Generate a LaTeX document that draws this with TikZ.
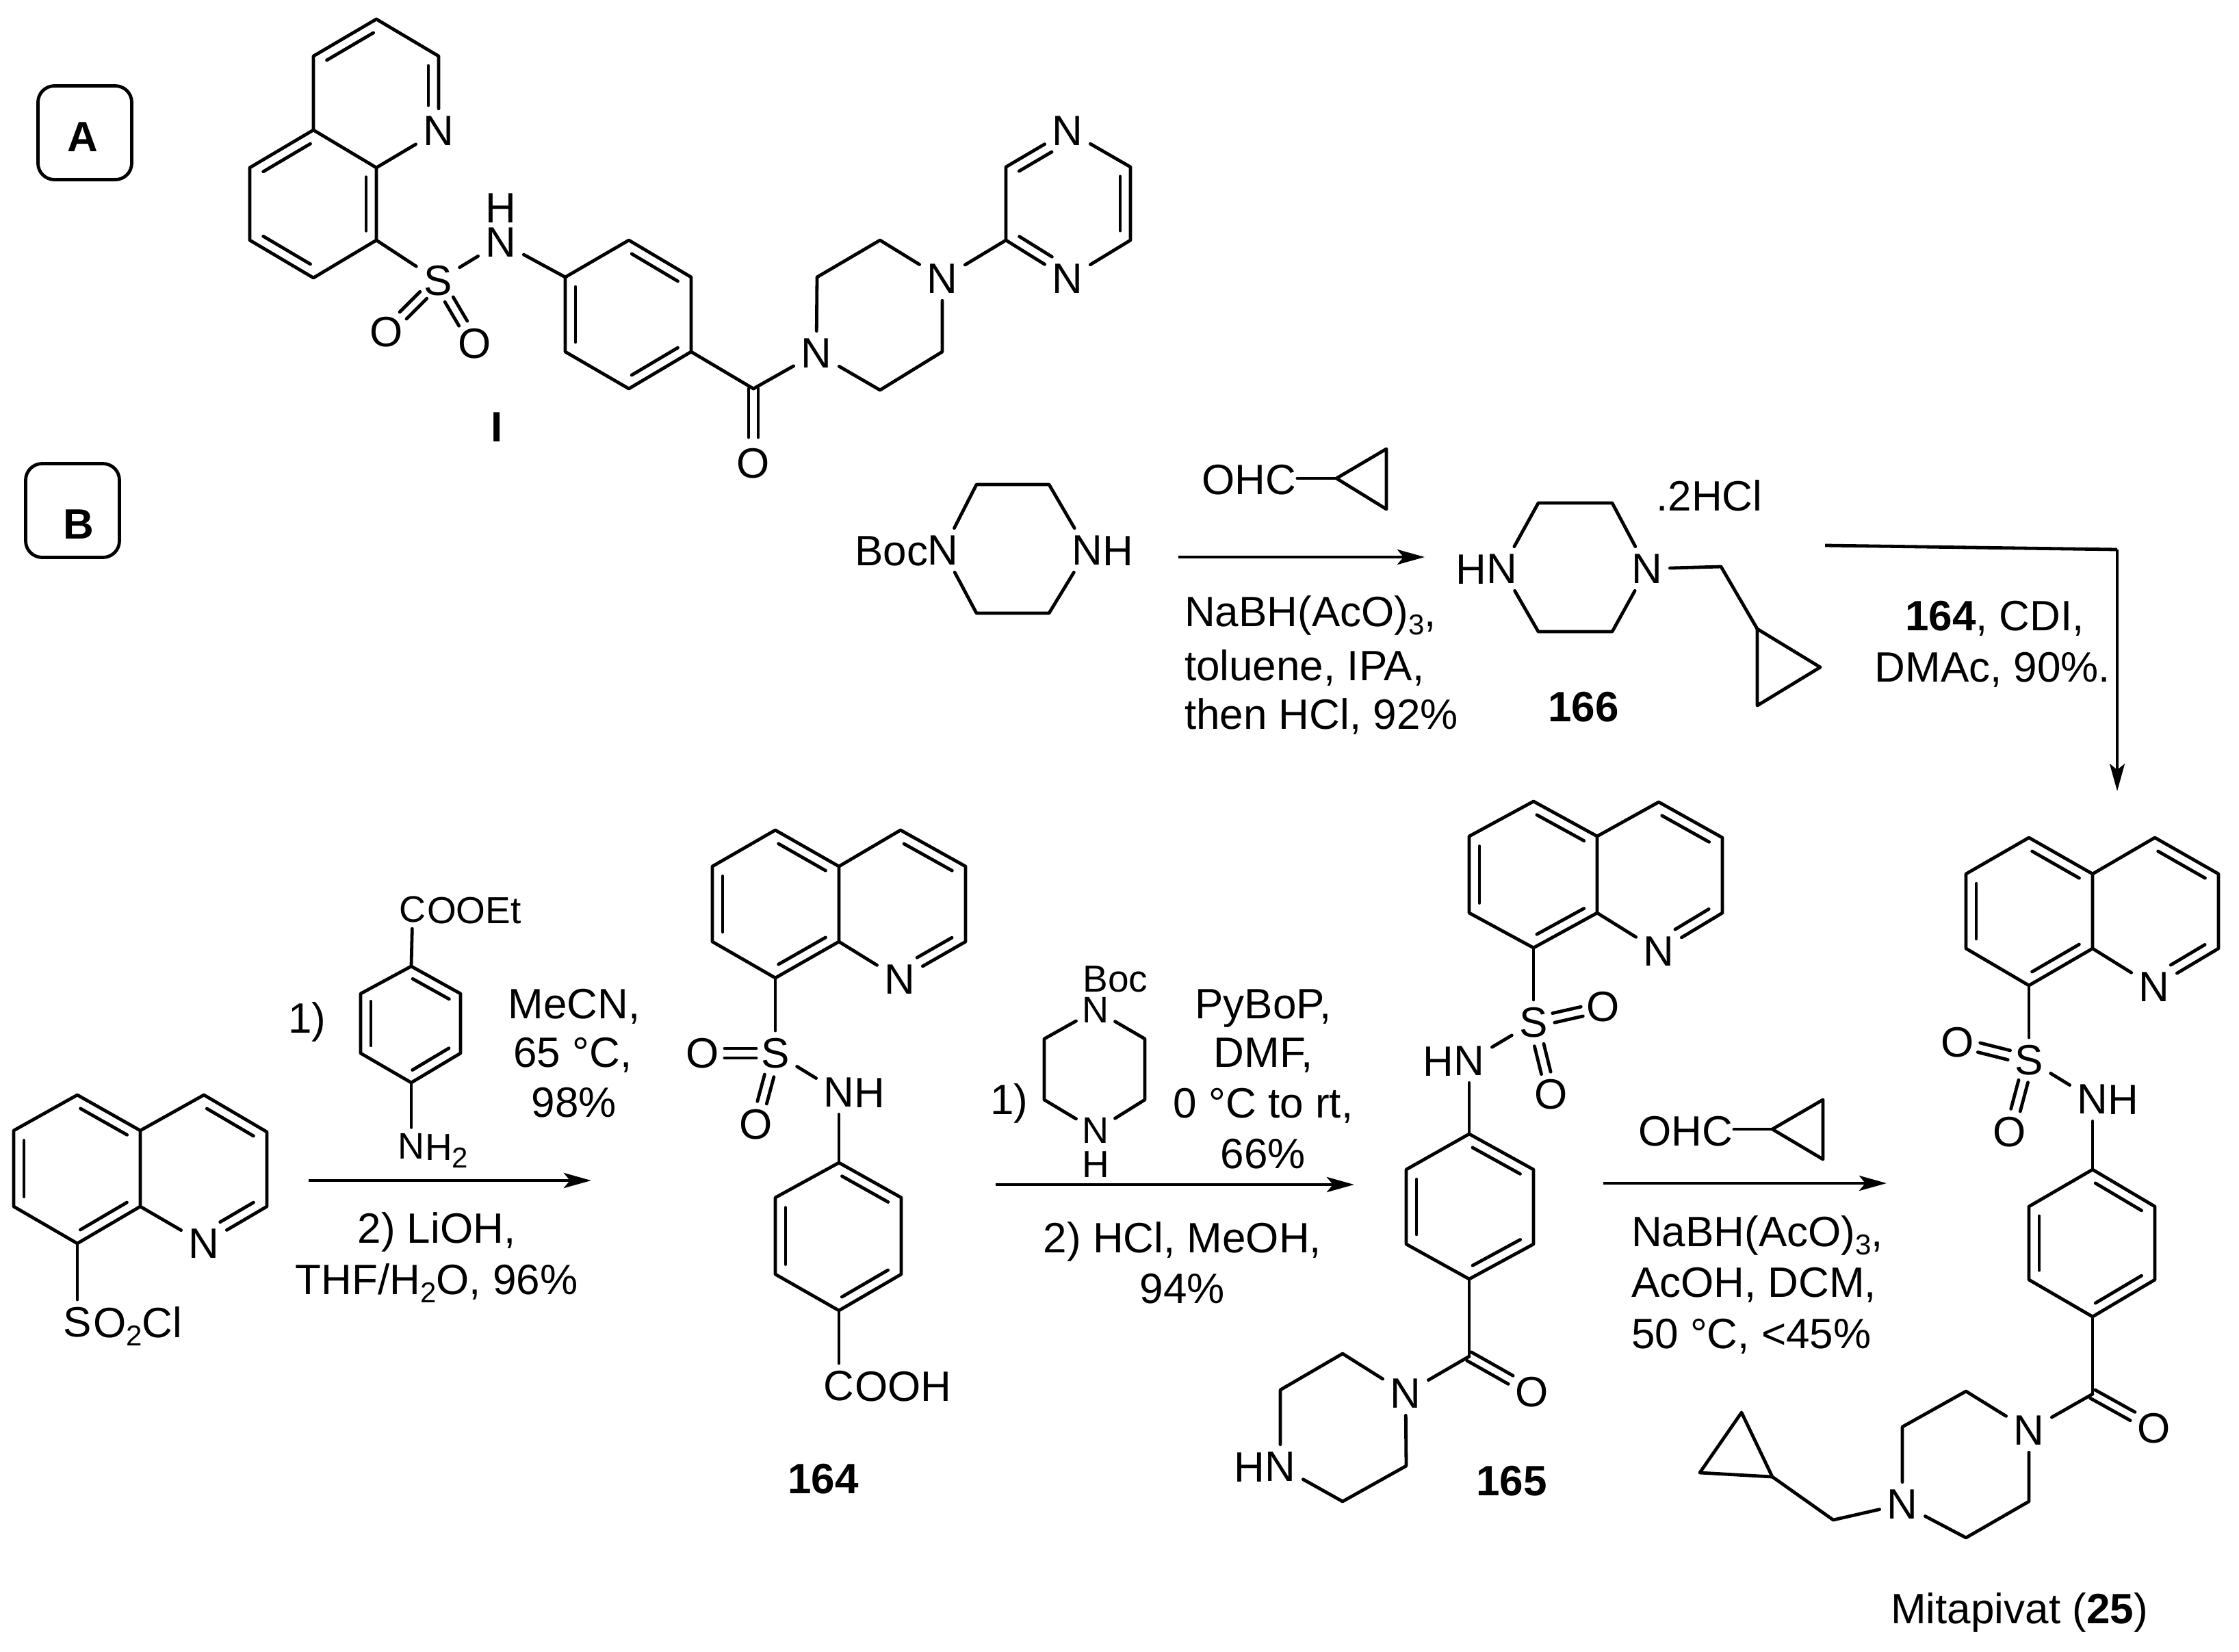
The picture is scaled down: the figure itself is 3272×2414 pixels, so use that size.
\documentclass[tikz,border=0pt]{standalone}
\usepackage{fontspec}
\setmainfont{Liberation Sans}
\usetikzlibrary{calc,arrows.meta}
\newcommand{\dn}[1]{\raisebox{-.2em}{\fontsize{42}{42}\selectfont #1}}
\tikzset{
  x=1pt,y=-1pt,
  bond/.style={line width=4.8pt,line cap=round,line join=round,black},
  arrowline/.style={line width=4.8pt,-{Stealth[length=40pt,width=22pt,inset=9pt]}},
  atom/.style={inner sep=11pt,outer sep=0pt,font=\fontsize{62}{70}\selectfont},
  atomsm/.style={inner sep=9pt,outer sep=0pt,font=\fontsize{54}{60}\selectfont},
  txt/.style={inner sep=0pt,outer sep=0pt,anchor=base,font=\fontsize{62}{70}\selectfont},
  txtw/.style={txt,anchor=base west},
  txte/.style={txt,anchor=base east},
  txtsm/.style={txt,font=\fontsize{55}{60}\selectfont},
  panel/.style={draw,line width=4.8pt,rounded corners=24pt,minimum width=137pt,minimum height=137pt,inner sep=0pt}
}
% inner line of a ring double bond, rings listed clockwise on screen
\newcommand{\ib}[2]{\draw[bond] ($(#1)!.13!(#2)!15pt!-90:(#2)$) -- ($(#1)!.87!(#2)!15pt!-90:(#2)$);}
\newcommand{\ibn}[2]{\draw[bond] ($(#1)!.13!(#2)!15pt!-90:(#2)$) -- ($(#1)!.66!(#2)!15pt!-90:(#2)$);}
\newcommand{\nib}[2]{\draw[bond] ($(#1)!.34!(#2)!15pt!-90:(#2)$) -- ($(#1)!.87!(#2)!15pt!-90:(#2)$);}
% parallel double bond between two named points
\newcommand{\dbl}[4]{%
  \draw[bond,shorten <=#3,shorten >=#4] ($(#1)!7pt!90:(#2)$) -- ($(#2)!7pt!-90:(#1)$);%
  \draw[bond,shorten <=#3,shorten >=#4] ($(#1)!7pt!-90:(#2)$) -- ($(#2)!7pt!90:(#1)$);}
% quinoline: prefix + t,a,b,e,s,x (benzo ring clockwise), u,v,w,n (pyridine)
\newcommand{\quinol}[1]{%
  \draw[bond] (#1t)--(#1a)--(#1b)--(#1e)--(#1s)--(#1x)--cycle;%
  \draw[bond] (#1a)--(#1u)--(#1v)--(#1w)--(#1n)--(#1b);%
  \ib{#1t}{#1a}\ib{#1b}{#1e}\ib{#1s}{#1x}\ib{#1u}{#1v}\ibn{#1w}{#1n}}
% para-phenylene: prefix + 1..6 clockwise from top
\newcommand{\phen}[1]{%
  \draw[bond] (#11)--(#12)--(#13)--(#14)--(#15)--(#16)--cycle;%
  \ib{#11}{#12}\ib{#13}{#14}\ib{#15}{#16}}
\begin{document}
\begin{tikzpicture}
\useasboundingbox (0,0) rectangle (3272,2414);
\fill[white] (0,0) rectangle (3272,2414);

% ---------- panels
\node[panel] (boxA) at (124,194) {};
\node[txt] (labA) at (121,221) {\textbf{A}};
\node[panel] (boxB) at (106,746) {};
\node[txt] (labB) at (115,787) {\textbf{B}};

% ---------- structure I
\coordinate (it) at (550,28); \coordinate (ia2) at (641,82); \node[atom] (in) at (641,191) {N};
\coordinate (ib) at (550,245); \coordinate (ia) at (458,190); \coordinate (iu) at (458,82);
\coordinate (i5) at (365,245); \coordinate (i6) at (365,351); \coordinate (i7) at (458,406); \coordinate (i8) at (550,351);
\draw[bond] (it)--(ia2)--(in)--(ib)--(ia)--(iu)--(it);
\draw[bond] (ia)--(i5)--(i6)--(i7)--(i8)--(ib);
\ib{iu}{it}\ibn{ia2}{in}\ib{i5}{ia}\ib{ib}{i8}\ib{i7}{i6}
\node[atom] (is) at (640,410) {S};
\node[atom] (io1) at (565,485) {O};
\node[atom] (io2) at (694,502) {O};
\node[atom] (inh) at (732,354) {N};
\node[txt] (inhh) at (732,325) {H};
\draw[bond] (i8)--(is);
\draw[bond] (is)--(inh);
\dbl{is}{io1}{30pt}{34pt}
\dbl{is}{io2}{32pt}{34pt}
\coordinate (ip1) at (919,351); \coordinate (ip2) at (1010,405); \coordinate (ip3) at (1010,514);
\coordinate (ip4) at (919,568); \coordinate (ip5) at (826,514); \coordinate (ip6) at (826,405);
\phen{ip}
\draw[bond] (inh)--(ip6);
\coordinate (ic) at (1101,568);
\node[atom] (ico) at (1101,677) {O};
\draw[bond] (ip3)--(ic);
\dbl{ic}{ico}{0pt}{38pt}
\node[atom] (izn1) at (1193,516) {N};
\coordinate (iz2) at (1194,405); \coordinate (iz3) at (1286,351);
\node[atom] (izn4) at (1377,407) {N};
\coordinate (iz5) at (1377,514); \coordinate (iz6) at (1286,570);
\draw[bond] (ic)--(izn1)--(iz2)--(iz3)--(izn4)--(iz5)--(iz6)--(izn1);
\coordinate (iy2) at (1470,351); \coordinate (iy3) at (1470,244);
\node[atom] (iyn4) at (1560,191) {N};
\coordinate (iy5) at (1652,244); \coordinate (iy6) at (1652,351);
\node[atom] (iyn1) at (1560,407) {N};
\draw[bond] (izn4)--(iy2)--(iy3)--(iyn4)--(iy5)--(iy6)--(iyn1)--(iy2);
\ibn{iy3}{iyn4}\ib{iy5}{iy6}\nib{iyn1}{iy2}
\node[txt] (labI) at (726,645) {\textbf{I}};

% ---------- Boc-piperazine
\node[atom] (bn) at (1378,804) {N};
\node[txte] (bboc) at (1356,826) {Boc};
\node[atom] (bnh) at (1589,804) {N};
\node[txt] (bnhh) at (1634,826) {H};
\coordinate (b2) at (1427,708); \coordinate (b3) at (1533,708);
\coordinate (b5) at (1533,896); \coordinate (b6) at (1427,896);
\draw[bond] (bn)--(b2)--(b3)--(bnh)--(b5)--(b6)--(bn);

% ---------- reagent above arrow 1
\node[txt] (ohc1) at (1825,722) {OHC};
\coordinate (cp1a) at (1953,699); \coordinate (cp1b) at (2026,656); \coordinate (cp1c) at (2026,744);
\draw[bond] (ohc1.east |- cp1a) ++(2,0) coordinate (ohc1e) -- (cp1a);
\draw[bond] (cp1a)--(cp1b)--(cp1c)--cycle;
\coordinate (ar1s) at (1722,814); \coordinate (ar1e) at (2082,814);
\draw[arrowline] (ar1s)--(ar1e);
\node[txtw] (c1l1) at (1731,915) {NaBH(AcO)\dn{3},};
\node[txtw] (c1l2) at (1731,994) {toluene, IPA,};
\node[txtw] (c1l3) at (1731,1065) {then HCl, 92\%};

% ---------- 166
\node[atom] (sn1) at (2195,831) {N};
\node[txt] (sh) at (2150,853) {H};
\node[atom] (sn4) at (2407,831) {N};
\coordinate (s2) at (2248,735); \coordinate (s3) at (2356,735);
\coordinate (s5) at (2356,923); \coordinate (s6) at (2248,923);
\draw[bond] (sn1)--(s2)--(s3)--(sn4)--(s5)--(s6)--(sn1);
\coordinate (sc) at (2515,828); \coordinate (scp1) at (2568,919); \coordinate (scp2) at (2660,975); \coordinate (scp3) at (2568,1031);
\draw[bond] (sn4)--(sc)--(scp1);
\draw[bond] (scp1)--(scp2)--(scp3)--cycle;
\node[txt] (shcl) at (2498,746) {.2HCl};
\node[txt] (lab166) at (2314,1054) {\textbf{166}};

% ---------- long arrow
\coordinate (lg1) at (2667,797); \coordinate (lg2) at (3094,803); \coordinate (lg3) at (3094,1156);
\draw[line width=4.8pt] (lg1)--(lg2);
\draw[line width=4pt,-{Stealth[length=40pt,width=22pt,inset=9pt]}] (lg2)--(lg3);
\node[txt] (c4l1) at (2915,921) {\textbf{164}, CDI,};
\node[txt] (c4l2) at (2912,996) {DMAc, 90\%.};

% ---------- sulfonyl chloride
\coordinate (qt) at (113,1600); \coordinate (qa) at (205,1652); \coordinate (qb) at (205,1763);
\coordinate (qe) at (113,1817); \coordinate (qs) at (20,1763); \coordinate (qx) at (20,1652);
\coordinate (qu) at (298,1600); \coordinate (qv) at (390,1654); \coordinate (qw) at (390,1763);
\node[atom] (qn) at (298,1817) {N};
\quinol{q}
\node[atom] (qso) at (113,1932) {S};
\node[txtw] (qsor) at (136,1954) {O\dn{2}Cl};
\draw[bond] (qe)--(qso);

% ---------- reagent above arrow 2
\node[atomsm] (r1c) at (603,1329) {C};
\node[txtsm,anchor=base west] (r1t) at (624,1349) {OOEt};
\node[atomsm] (r1n) at (601,1675) {N};
\node[txtsm,anchor=base west] (r1h) at (621,1695) {H\dn{2}};
\coordinate (r11) at (601,1412); \coordinate (r12) at (673,1452); \coordinate (r13) at (673,1539);
\coordinate (r14) at (601,1582); \coordinate (r15) at (527,1539); \coordinate (r16) at (527,1452);
\phen{r1}
\draw[bond] (r1c)--(r11); \draw[bond] (r14)--(r1n);
\node[txt] (r1one) at (449,1509) {1)};
\node[txt] (c2l1) at (839,1488) {MeCN,};
\node[txt] (c2l2) at (837,1559) {65 °C,};
\node[txt] (c2l3) at (839,1632) {98\%};
\coordinate (ar2s) at (451,1725); \coordinate (ar2e) at (864,1725);
\draw[arrowline] (ar2s)--(ar2e);
\node[txt] (c2l4) at (638,1816) {2) LiOH,};
\node[txt] (c2l5) at (638,1891) {THF/H\dn{2}O, 96\%};

% ---------- 164
\coordinate (at) at (1133,1213); \coordinate (aa) at (1226,1266); \coordinate (ab) at (1226,1376);
\coordinate (ae) at (1133,1429); \coordinate (as) at (1041,1376); \coordinate (ax) at (1041,1266);
\coordinate (au) at (1316,1213); \coordinate (av) at (1411,1266); \coordinate (aw) at (1411,1376);
\node[atom] (an) at (1315,1431) {N};
\quinol{a}
\node[atom] (aso) at (1133,1539) {S};
\node[atom] (ao1) at (1027,1539) {O};
\node[atom] (ao2) at (1105,1643) {O};
\node[atom] (anh) at (1226,1596) {N};
\node[txt] (anhh) at (1271,1618) {H};
\draw[bond] (ae)--(aso); \draw[bond] (aso)--(anh);
\dbl{aso}{ao1}{28pt}{32pt}
\dbl{aso}{ao2}{34pt}{33pt}
\coordinate (ap1) at (1226,1699); \coordinate (ap2) at (1317,1750); \coordinate (ap3) at (1317,1862);
\coordinate (ap4) at (1226,1915); \coordinate (ap5) at (1133,1862); \coordinate (ap6) at (1133,1750);
\phen{ap}
\draw[bond] (anh)--(ap1);
\node[atom] (acooh) at (1226,2025) {C};
\node[txtw] (acoohr) at (1249,2047) {OOH};
\draw[bond] (ap4)--(acooh);
\node[txt] (lab164) at (1203,2182) {\textbf{164}};

% ---------- reagent above arrow 3
\node[txt] (r2one) at (1475,1628) {1)};
\node[atomsm] (r2n1) at (1601,1476) {N};
\node[txtsm] (r2boc) at (1630,1449) {Boc};
\node[atomsm] (r2n4) at (1601,1652) {N};
\node[txtsm] (r2h) at (1601,1720) {H};
\coordinate (r22) at (1673,1518); \coordinate (r23) at (1673,1607);
\coordinate (r25) at (1526,1607); \coordinate (r26) at (1526,1518);
\draw[bond] (r2n1)--(r22)--(r23)--(r2n4)--(r25)--(r26)--(r2n1);
\node[txt] (c3l1) at (1846,1488) {PyBoP,};
\node[txt] (c3l2) at (1846,1559) {DMF,};
\node[txt] (c3l3) at (1846,1633) {0 °C to rt,};
\node[txt] (c3l4) at (1846,1707) {66\%};
\coordinate (ar3s) at (1455,1731); \coordinate (ar3e) at (1979,1731);
\draw[arrowline] (ar3s)--(ar3e);
\node[txt] (c3l5) at (1728,1830) {2) HCl, MeOH,};
\node[txt] (c3l6) at (1728,1904) {94\%};

% ---------- 165
\coordinate (ct) at (2241,1171); \coordinate (ca) at (2334,1222); \coordinate (cb) at (2334,1334);
\coordinate (ce) at (2241,1385); \coordinate (cs) at (2147,1334); \coordinate (cx) at (2147,1222);
\coordinate (cu) at (2424,1172); \coordinate (cv) at (2517,1224); \coordinate (cw) at (2517,1334);
\node[atom] (cn) at (2424,1390) {N};
\quinol{c}
\node[atom] (cso) at (2241,1494) {S};
\node[atom] (co1) at (2343,1471) {O};
\node[atom] (co2) at (2267,1599) {O};
\node[atom] (cnh) at (2147,1550) {N};
\node[txt] (cnhh) at (2102,1572) {H};
\draw[bond] (ce)--(cso); \draw[bond] (cso)--(cnh);
\dbl{cso}{co1}{30pt}{32pt}
\dbl{cso}{co2}{34pt}{32pt}
\coordinate (cp1) at (2147,1657); \coordinate (cp2) at (2241,1709); \coordinate (cp3) at (2241,1818);
\coordinate (cp4) at (2147,1869); \coordinate (cp5) at (2055,1818); \coordinate (cp6) at (2055,1709);
\phen{cp}
\draw[bond] (cnh)--(cp1);
\coordinate (cc) at (2147,1982);
\node[atom] (cco) at (2239,2034) {O};
\draw[bond] (cp4)--(cc);
\dbl{cc}{cco}{0pt}{36pt}
\node[atom] (czn1) at (2054,2036) {N};
\coordinate (cz2) at (1962,1978); \coordinate (cz3) at (1871,2031);
\node[atom] (czn4) at (1871,2143) {N};
\node[txt] (czh) at (1826,2165) {H};
\coordinate (cz5) at (1962,2194); \coordinate (cz6) at (2055,2142);
\draw[bond] (cc)--(czn1)--(cz2)--(cz3)--(czn4)--(cz5)--(cz6)--(czn1);
\node[txt] (lab165) at (2209,2185) {\textbf{165}};

% ---------- reagent above arrow 4
\node[txt] (ohc2) at (2463,1674) {OHC};
\coordinate (cp2a) at (2590,1650); \coordinate (cp2b) at (2664,1607); \coordinate (cp2c) at (2664,1694);
\draw[bond] (ohc2.east |- cp2a) ++(2,0) coordinate (ohc2e) -- (cp2a);
\draw[bond] (cp2a)--(cp2b)--(cp2c)--cycle;
\coordinate (ar4s) at (2343,1729); \coordinate (ar4e) at (2757,1729);
\draw[arrowline] (ar4s)--(ar4e);
\node[txtw] (c5l1) at (2384,1821) {NaBH(AcO)\dn{3},};
\node[txtw] (c5l2) at (2384,1895) {AcOH, DCM,};
\node[txtw] (c5l3) at (2384,1970) {50 °C, <45\%};

% ---------- mitapivat
\coordinate (mt) at (2965,1224); \coordinate (ma) at (3058,1277); \coordinate (mb) at (3058,1386);
\coordinate (me) at (2965,1440); \coordinate (ms) at (2873,1386); \coordinate (mx) at (2873,1277);
\coordinate (mu) at (3149,1224); \coordinate (mv) at (3242,1277); \coordinate (mw) at (3242,1386);
\node[atom] (mn) at (3148,1442) {N};
\quinol{m}
\node[atom] (mso) at (2965,1549) {S};
\node[atom] (mo1) at (2861,1523) {O};
\node[atom] (mo2) at (2937,1654) {O};
\node[atom] (mnh) at (3058,1606) {N};
\node[txt] (mnhh) at (3103,1628) {H};
\draw[bond] (me)--(mso); \draw[bond] (mso)--(mnh);
\dbl{mso}{mo1}{30pt}{32pt}
\dbl{mso}{mo2}{32pt}{33pt}
\coordinate (mp1) at (3058,1709); \coordinate (mp2) at (3149,1763); \coordinate (mp3) at (3149,1870);
\coordinate (mp4) at (3058,1924); \coordinate (mp5) at (2965,1870); \coordinate (mp6) at (2965,1763);
\phen{mp}
\draw[bond] (mnh)--(mp1);
\coordinate (mc) at (3058,2037);
\node[atom] (mco) at (3148,2087) {O};
\draw[bond] (mp4)--(mc);
\dbl{mc}{mco}{0pt}{36pt}
\node[atom] (mzn1) at (2965,2090) {N};
\coordinate (mz2) at (2873,2033); \coordinate (mz3) at (2780,2085);
\node[atom] (mzn4) at (2780,2198) {N};
\coordinate (mz5) at (2873,2247); \coordinate (mz6) at (2965,2194);
\draw[bond] (mc)--(mzn1)--(mz2)--(mz3)--(mzn4)--(mz5)--(mz6)--(mzn1);
\coordinate (mch) at (2679,2221); \coordinate (mcp1) at (2590,2158); \coordinate (mcp2) at (2484,2152); \coordinate (mcp3) at (2545,2064);
\draw[bond] (mzn4)--(mch)--(mcp1);
\draw[bond] (mcp1)--(mcp2)--(mcp3)--cycle;
\node[txt] (labm) at (2951,2372) {Mitapivat (\textbf{25})};
\end{tikzpicture}
\end{document}
